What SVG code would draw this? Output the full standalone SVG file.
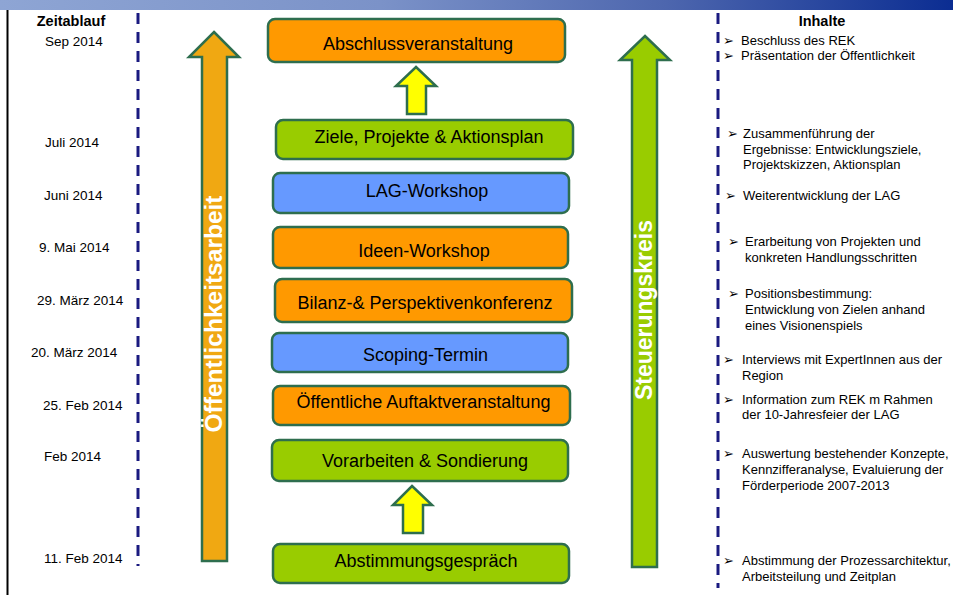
<svg xmlns="http://www.w3.org/2000/svg" width="953" height="595" viewBox="0 0 953 595">
<defs>
<linearGradient id="bar" x1="0" y1="0" x2="1" y2="0">
<stop offset="0" stop-color="#8ea5d4"/>
<stop offset="0.4" stop-color="#7b92c8"/>
<stop offset="0.7" stop-color="#4d66ae"/>
<stop offset="1" stop-color="#0b2d92"/>
</linearGradient>
<style>
.box{stroke:#2e6e4e;stroke-width:2.5}
.or{fill:#ff9900}
.gr{fill:#99cc00}
.bl{fill:#6699ff}
.bt{font-family:"Liberation Sans",Arial,sans-serif;font-size:18px;fill:#000;text-anchor:middle}
.dt{font-family:"Liberation Sans",Arial,sans-serif;font-size:13.5px;fill:#000}
.hd{font-family:"Liberation Sans",Arial,sans-serif;font-size:14.5px;font-weight:bold;fill:#000;text-anchor:middle}
.it{font-family:"Liberation Sans",Arial,sans-serif;font-size:13px;fill:#000}
.bu{font-family:"DejaVu Sans",sans-serif;font-size:13px;fill:#000}
.dash{stroke:#1a1a80;stroke-width:3;stroke-dasharray:11 8;fill:none}
.arr{stroke:#2e6e4e;stroke-width:2.5}
.vt{font-family:"Liberation Sans",Arial,sans-serif;font-weight:bold;fill:#fff;text-anchor:middle}
</style>
</defs>
<rect x="0" y="0" width="953" height="595" fill="#fff"/>
<rect x="0" y="0" width="953" height="10" fill="url(#bar)"/>
<line x1="7.5" y1="10" x2="7.5" y2="595" stroke="#000" stroke-width="2"/>

<g id="timeline">
<line class="dash" x1="138" y1="13" x2="138" y2="566"/>
<line class="dash" x1="718" y1="13" x2="718" y2="588"/>
</g>

<g id="dates">
<text class="hd" x="71" y="26">Zeitablauf</text>
<text class="dt" x="45" y="46">Sep 2014</text>
<text class="dt" x="45" y="147">Juli 2014</text>
<text class="dt" x="44" y="200">Juni 2014</text>
<text class="dt" x="39" y="252">9. Mai 2014</text>
<text class="dt" x="37" y="305">29. März 2014</text>
<text class="dt" x="31" y="357">20. März 2014</text>
<text class="dt" x="43" y="410">25. Feb 2014</text>
<text class="dt" x="44" y="461">Feb 2014</text>
<text class="dt" x="44" y="563">11. Feb 2014</text>
</g>

<g id="oeffentlichkeitsarbeit">
<polygon class="arr" fill="#f0a812" points="214,32 239,57 227,57 227,561 202,561 202,57 189,57"/>
<text class="vt" font-size="24" transform="translate(222,314) rotate(-90)" x="0" y="0" textLength="237" lengthAdjust="spacingAndGlyphs">Öffentlichkeitsarbeit</text>
</g>

<g id="steuerungskreis">
<polygon class="arr" fill="#99cc00" points="645,36 670,60 657,60 657,567 632,567 632,60 620,60"/>
<text class="vt" font-size="23" transform="translate(652,310) rotate(-90)" x="0" y="0" textLength="180" lengthAdjust="spacingAndGlyphs">Steuerungskreis</text>
</g>

<g id="n-abschluss">
<rect class="box or" x="268" y="19" width="297" height="43" rx="7"/>
<text class="bt" x="418" y="50">Abschlussveranstaltung</text>
</g>
<g id="n-ziele">
<rect class="box gr" x="276" y="120" width="297" height="39" rx="7"/>
<text class="bt" x="429" y="143">Ziele, Projekte &amp; Aktionsplan</text>
</g>
<g id="n-lag">
<rect class="box bl" x="273" y="173" width="296" height="40" rx="7"/>
<text class="bt" x="427" y="197">LAG-Workshop</text>
</g>
<g id="n-ideen">
<rect class="box or" x="273" y="227" width="295" height="41" rx="7"/>
<text class="bt" x="424" y="257">Ideen-Workshop</text>
</g>
<g id="n-bilanz">
<rect class="box or" x="275" y="279" width="297" height="43" rx="7"/>
<text class="bt" x="425" y="309">Bilanz-&amp; Perspektivenkonferenz</text>
</g>
<g id="n-scoping">
<rect class="box bl" x="272" y="333" width="296" height="39" rx="7"/>
<text class="bt" x="425.5" y="361">Scoping-Termin</text>
</g>
<g id="n-auftakt">
<rect class="box or" x="273" y="386" width="297" height="39" rx="7"/>
<text class="bt" x="423.5" y="408">Öffentliche Auftaktveranstaltung</text>
</g>
<g id="n-vorarbeiten">
<rect class="box gr" x="272" y="440" width="296" height="41" rx="7"/>
<text class="bt" x="425" y="467">Vorarbeiten &amp; Sondierung</text>
</g>
<g id="n-abstimmung">
<rect class="box gr" x="273" y="544" width="296" height="39" rx="7"/>
<text class="bt" x="426" y="567">Abstimmungsgespräch</text>
</g>

<g id="connectors">
<polygon class="arr" fill="#ffff00" points="416,67 436,86 426,86 426,114 407,114 407,86 396,86"/>
<polygon class="arr" fill="#ffff00" points="412,486 432,505 423,505 423,533 403,533 403,505 393,505"/>
</g>

<g id="inhalte">
<text class="hd" x="822" y="26">Inhalte</text>
<text class="bu" x="723" y="45">➢</text>
<text class="it" x="741" y="45">Beschluss des REK</text>
<text class="bu" x="723" y="60">➢</text>
<text class="it" x="741" y="60">Präsentation der Öffentlichkeit</text>

<text class="bu" x="727" y="138">➢</text>
<text class="it" x="743" y="138">Zusammenführung der</text>
<text class="it" x="743" y="154">Ergebnisse: Entwicklungsziele,</text>
<text class="it" x="743" y="169">Projektskizzen, Aktionsplan</text>

<text class="bu" x="725" y="200">➢</text>
<text class="it" x="743" y="200">Weiterentwicklung der LAG</text>

<text class="bu" x="728" y="246">➢</text>
<text class="it" x="745" y="246">Erarbeitung von Projekten und</text>
<text class="it" x="745" y="262">konkreten Handlungsschritten</text>

<text class="bu" x="728" y="298">➢</text>
<text class="it" x="745" y="298">Positionsbestimmung:</text>
<text class="it" x="745" y="314">Entwicklung von Zielen anhand</text>
<text class="it" x="745" y="330">eines Visionenspiels</text>

<text class="bu" x="723" y="364">➢</text>
<text class="it" x="742" y="364">Interviews mit ExpertInnen aus der</text>
<text class="it" x="742" y="380">Region</text>

<text class="bu" x="723" y="404">➢</text>
<text class="it" x="742" y="404">Information zum REK m Rahmen</text>
<text class="it" x="742" y="419">der 10-Jahresfeier der LAG</text>

<text class="bu" x="723" y="458">➢</text>
<text class="it" x="742" y="458">Auswertung bestehender Konzepte,</text>
<text class="it" x="742" y="474">Kennzifferanalyse, Evaluierung der</text>
<text class="it" x="742" y="490">Förderperiode 2007-2013</text>

<text class="bu" x="723" y="565">➢</text>
<text class="it" x="742" y="565">Abstimmung der Prozessarchitektur,</text>
<text class="it" x="742" y="581">Arbeitsteilung und Zeitplan</text>
</g>
</svg>
